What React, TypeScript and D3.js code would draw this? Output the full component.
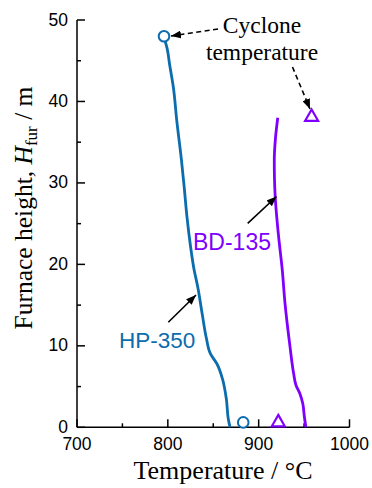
import React from "react";
import * as d3 from "d3";

const W = 372;
const H = 488;

// HP-350 profile: [temperature °C, height m]
const hp350: [number, number][] = [
  [797, 47.4], [799, 46.6], [802, 44.5], [806, 41.8], [810, 37.5], [815, 32.8],
  [818, 29.5], [821, 25.9], [825, 22.2], [828.5, 19.6], [833, 17.2], [838, 13.8],
  [842.5, 10.9], [847, 9.0], [854, 7.8], [860, 6.0], [864.5, 3.4], [866.6, 1.0], [868.5, 0],
];
// BD-135 profile
const bd135: [number, number][] = [
  [921, 38], [918.5, 35.5], [917.2, 32.8], [917.4, 30.5], [918.2, 28.3], [921.6, 23.8],
  [926, 19.3], [929, 15.2], [934.5, 9.9], [938.5, 6.6], [941, 5.2], [945.5, 4.1],
  [948.5, 2.95], [950.3, 1.3], [952, 0],
];
// Cyclone temperature markers and bottom markers
const hpMarkers: [number, number][] = [[795.8, 48], [883, 0.6]];
const bdMarkers: [number, number][] = [[958.3, 38.1], [921.6, 0.6]];

const xTicks = [700, 800, 900, 1000];
const xMinor = [750, 850, 950];
const yTicks = [0, 10, 20, 30, 40, 50];
const yMinor = [5, 15, 25, 35, 45];

const BLUE = "#0b6cae";
const PURPLE = "#8000ff";

export default function App() {
  const x = d3.scaleLinear().domain([700, 1000]).range([77, 349.5]);
  const y = d3.scaleLinear().domain([0, 50]).range([427.3, 20]);

  const line = d3
    .line<[number, number]>()
    .x((d) => x(d[0]))
    .y((d) => y(d[1]))
    .curve(d3.curveMonotoneY);

  const sortH = (a: [number, number][]) => [...a].sort((p, q) => p[1] - q[1]);

  const tri = (cx: number, cy: number) => {
    const s = 6.5;
    return `M${cx},${cy - s} L${cx + s},${cy + s * 0.75} L${cx - s},${cy + s * 0.75} Z`;
  };

  const sans = "'Liberation Sans', Arial, sans-serif";
  const serif = "'Liberation Serif', 'Times New Roman', serif";

  return (
    <div style={{ position: "absolute", left: 0, top: 0 }}>
      <svg width={W} height={H} style={{ display: "block", background: "#fff" }}>
        <defs>
          <marker id="ah" viewBox="0 0 10 8" refX="10" refY="4" markerWidth="10" markerHeight="8" markerUnits="userSpaceOnUse" orient="auto">
            <path d="M0,0 L10,4 L0,8 Z" fill="#000" />
          </marker>
        </defs>

        {/* axes */}
        <line x1={x(700)} x2={x(1000)} y1={y(0)} y2={y(0)} stroke="#000" strokeWidth={1.5} />
        <line x1={x(700)} x2={x(700)} y1={y(0)} y2={y(50)} stroke="#000" strokeWidth={1.5} />
        {xTicks.map((t) => (
          <g key={"xt" + t}>
            <line x1={x(t)} x2={x(t)} y1={y(0)} y2={y(0) - 8} stroke="#000" strokeWidth={1.5} />
            <text x={x(t)} y={450} fontFamily={sans} fontSize={17.5} textAnchor="middle">{t}</text>
          </g>
        ))}
        {xMinor.map((t) => (
          <line key={"xm" + t} x1={x(t)} x2={x(t)} y1={y(0)} y2={y(0) - 4} stroke="#000" strokeWidth={1.5} />
        ))}
        {yTicks.map((t) => (
          <g key={"yt" + t}>
            <line x1={x(700)} x2={x(700) + 8} y1={y(t)} y2={y(t)} stroke="#000" strokeWidth={1.5} />
            <text x={68} y={y(t) + 5.5} fontFamily={sans} fontSize={17.5} textAnchor="end">{t}</text>
          </g>
        ))}
        {yMinor.map((t) => (
          <line key={"ym" + t} x1={x(700)} x2={x(700) + 4} y1={y(t)} y2={y(t)} stroke="#000" strokeWidth={1.5} />
        ))}

        {/* axis titles */}
        <text x={223} y={479} fontFamily={serif} fontSize={26} textAnchor="middle">Temperature / °C</text>
        <text transform="translate(32,208) rotate(-90)" fontFamily={serif} fontSize={25.5} textAnchor="middle">
          Furnace height, <tspan fontStyle="italic">H</tspan>
          <tspan fontSize={17} dy={5}>fur</tspan>
          <tspan dy={-5}> / m</tspan>
        </text>

        {/* curves */}
        <path d={line(sortH(hp350)) || ""} fill="none" stroke={BLUE} strokeWidth={2.8} />
        <path d={line(sortH(bd135)) || ""} fill="none" stroke={PURPLE} strokeWidth={2.8} />

        {hpMarkers.map((d, i) => (
          <circle key={"hc" + i} cx={x(d[0])} cy={y(d[1])} r={5.3} fill="#fff" stroke={BLUE} strokeWidth={2} />
        ))}
        {bdMarkers.map((d, i) => (
          <path key={"bt" + i} d={tri(x(d[0]), y(d[1]) - 1)} fill="#fff" stroke={PURPLE} strokeWidth={2.2} strokeLinejoin="miter" />
        ))}

        {/* annotations */}
        <text x={262} y={33} fontFamily={serif} fontSize={23.5} textAnchor="middle">Cyclone</text>
        <text x={262} y={60} fontFamily={serif} fontSize={23.5} textAnchor="middle">temperature</text>
        <line x1={218} y1={29} x2={171} y2={36} stroke="#000" strokeWidth={1.6} strokeDasharray="5,3.5" markerEnd="url(#ah)" />
        <line x1={292.5} y1={67} x2={310} y2={109} stroke="#000" strokeWidth={1.6} strokeDasharray="5,3.5" markerEnd="url(#ah)" />
        <line x1={247.7} y1={223.3} x2={276.5} y2={196.5} stroke="#000" strokeWidth={1.6} markerEnd="url(#ah)" />
        <line x1={168.3} y1={322.3} x2={196} y2={295} stroke="#000" strokeWidth={1.6} markerEnd="url(#ah)" />

        <text x={119} y={348} fontFamily={sans} fontSize={22.5} fill={BLUE}>HP-350</text>
        <text x={193} y={250} fontFamily={sans} fontSize={23} fill={PURPLE}>BD-135</text>
      </svg>
    </div>
  );
}
